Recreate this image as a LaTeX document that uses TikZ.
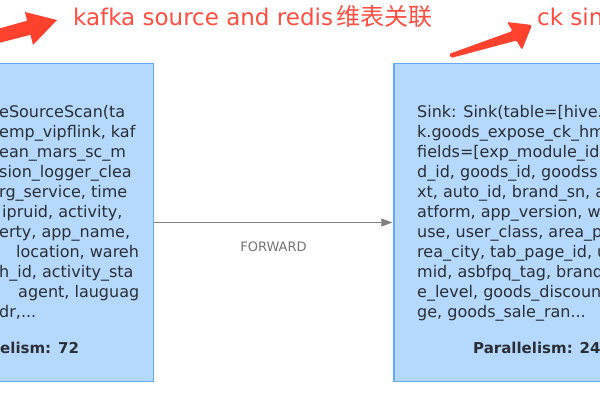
\documentclass[tikz,border=0pt]{standalone}
\usepackage{fontspec}
\setmainfont{DejaVu Sans}
\newfontfamily\cjkfont{Noto Sans CJK SC}
\usetikzlibrary{arrows.meta}

\definecolor{notered}{RGB}{255,66,46}
\definecolor{titlered}{RGB}{255,78,64}
\definecolor{boxfill}{RGB}{180,217,252}
\definecolor{boxline}{RGB}{96,170,246}
\definecolor{boxtext}{RGB}{42,46,54}
\definecolor{linkgray}{RGB}{128,128,128}

\tikzset{
  opbox/.style={draw=boxline, line width=1.5pt, fill=boxfill, inner sep=0pt},
  optext/.style={anchor=north west, inner sep=0pt, align=left, text=boxtext,
    font=\fontsize{16}{20}\selectfont},
  parbold/.style={anchor=base west, inner sep=0pt, text=boxtext,
    font=\fontsize{15}{18}\selectfont\bfseries},
  note/.style={anchor=base west, inner sep=0pt, text=titlered,
    font=\fontsize{23}{28}\selectfont},
  link/.style={draw=linkgray, line width=0.9pt, -{Triangle[length=11pt,width=8pt]}, shorten >=1pt},
  linklabel/.style={inner sep=0pt, text=linkgray!90!black, font=\fontsize{13}{15}\selectfont}
}

\begin{document}
\begin{tikzpicture}[x=1pt,y=1pt,yscale=-1,xscale=1]
\useasboundingbox (0,0) rectangle (600,400);
\clip (0,0) rectangle (600,400);

%Shape: Rectangle
\node (scan) [opbox, minimum width=193.3pt, minimum height=318.4pt] at (56.65,222.5) {};
%Shape: Rectangle
\node (sink) [opbox, minimum width=266pt, minimum height=318.4pt] at (527,222.5) {};

%Straight Lines
\draw [link] (scan.east) -- (sink.west);
% Text Node
\node (fwd) [linklabel] at (273.5,247) {FORWARD};

% Text Node
\node (scantext) [optext] at (-1,103) {\rule{0pt}{14pt}eSourceScan(ta\\
emp\_vipflink, kaf\\
ean\_mars\_sc\_m\\
sion\_logger\_clea\\
rg\_service, time\\
\hspace*{3pt}ipruid, activity,\\
erty, app\_name,\\
\hspace*{17pt}location, wareh\\
h\_id, activity\_sta\\
\hspace*{19pt}agent, lauguag\\
dr,...};
% Text Node
\node (scanpar) [parbold] at (0,353) {elism: 72};

% Text Node
\node (sinktext) [optext] at (417,103) {\rule{0pt}{14pt}Sink: Sink(table=[hive.\\
k.goods\_expose\_ck\_hm\\
fields=[exp\_module\_id\\
d\_id, goods\_id, goodss\\
xt, auto\_id, brand\_sn, a\\
atform, app\_version, w\\
use, user\_class, area\_p\\
rea\_city, tab\_page\_id, u\\
mid, asbfpq\_tag, brand\\
e\_level, goods\_discoun\\
ge, goods\_sale\_ran...};
% Text Node
\node (sinkpar) [parbold] at (473,353) {Parallelism: 24};

%Red arrows
\fill [notered] (-40,39.5) -- (27.1,20.7) -- (25,12) -- (57,20) -- (33,45) -- (30.5,34.8) -- (-40,53) -- cycle;
\fill [notered, rounded corners=1.5pt] (449,54) -- (512.5,31) -- (507,22) -- (532,25) -- (522,50) -- (516.5,40.5) -- (451,58) -- cycle;

% Text Node
\node (srcnote) [note] at (73,25) {kafka source and redis\hspace{4pt}{\cjkfont\fontsize{24}{28}\selectfont 维表关联}};
% Text Node
\node (sinknote) [note] at (537,25) {ck sin};

\end{tikzpicture}
\end{document}
